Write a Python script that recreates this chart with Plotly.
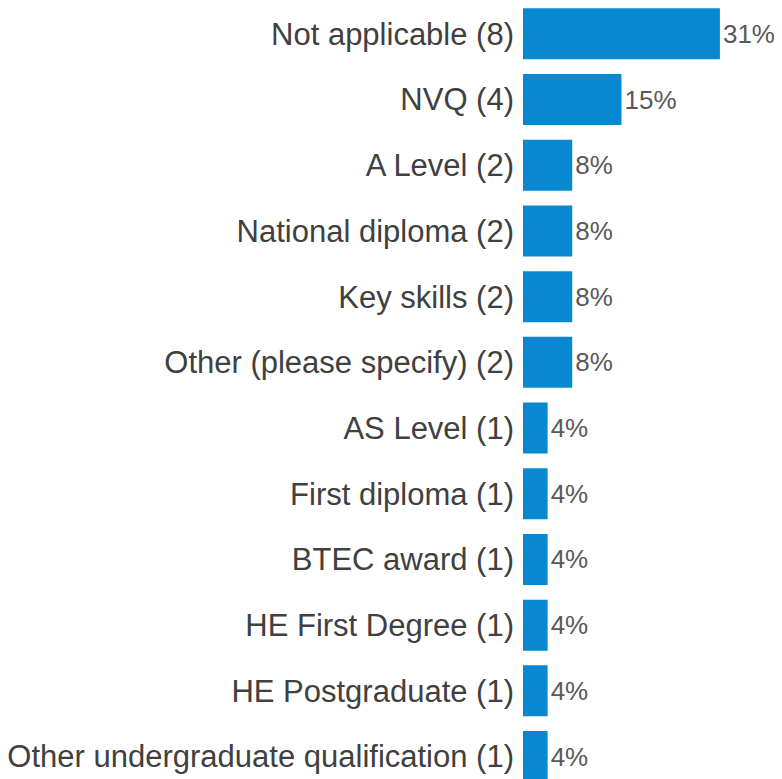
import plotly.graph_objects as go

categories = [
    "Not applicable (8)",
    "NVQ (4)",
    "A Level (2)",
    "National diploma (2)",
    "Key skills (2)",
    "Other (please specify) (2)",
    "AS Level (1)",
    "First diploma (1)",
    "BTEC award (1)",
    "HE First Degree (1)",
    "HE Postgraduate (1)",
    "Other undergraduate qualification (1)",
]
counts = [8, 4, 2, 2, 2, 2, 1, 1, 1, 1, 1, 1]
total = sum(counts)
percents = [c / total * 100 for c in counts]
labels = [f"{round(p)}%" for p in percents]

# page has an 8px body margin; compensate so the plot sits like the reference
OFF = 8
band = 65.7
fig_w = 782 - OFF
fig_h = 779 - OFF
top_val = -0.5 + (OFF - 1) / band

fig = go.Figure(
    go.Bar(
        x=percents,
        y=categories,
        orientation="h",
        marker=dict(color="#0788D1", line=dict(width=0)),
        text=labels,
        textposition="outside",
        textfont=dict(family="Liberation Sans, Arial, sans-serif", size=26, color="#595959"),
        cliponaxis=False,
        width=0.776,
    )
)

fig.update_layout(
    width=fig_w,
    height=fig_h,
    margin=dict(l=523 - OFF, r=0, t=0, b=0, pad=0),
    plot_bgcolor="white",
    paper_bgcolor="white",
    showlegend=False,
    font=dict(family="Liberation Sans, Arial, sans-serif"),
)
fig.update_xaxes(
    range=[0, 259 / 6.4],
    visible=False,
    showgrid=False,
    zeroline=False,
)
fig.update_yaxes(
    type="category",
    categoryorder="array",
    categoryarray=categories,
    range=[top_val + fig_h / band, top_val],
    automargin=False,
    showgrid=False,
    zeroline=False,
    showline=False,
    ticks="",
    ticklabelstandoff=8,
    tickfont=dict(family="Liberation Sans, Arial, sans-serif", size=31, color="#404040"),
)

fig.write_html("out.html")
